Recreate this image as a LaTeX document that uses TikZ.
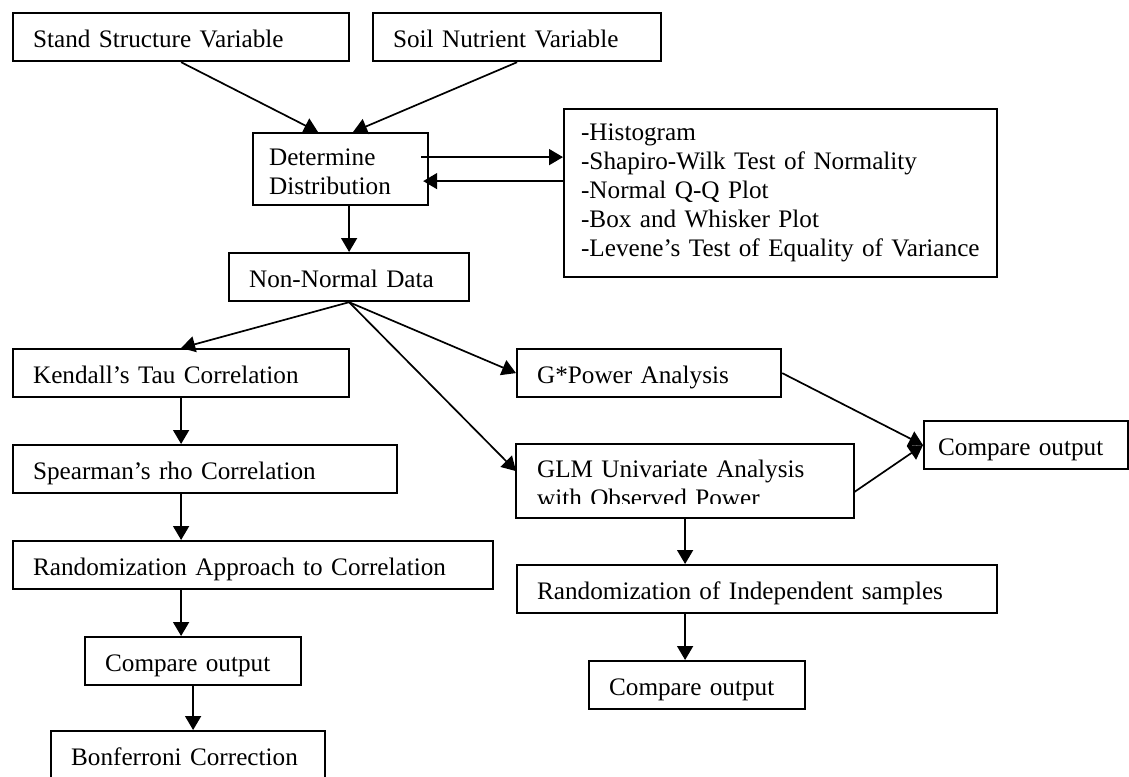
\documentclass[tikz,border=0pt]{standalone}
\usepackage{fontspec}
\setmainfont{Liberation Serif}
\usetikzlibrary{arrows.meta}
\begin{document}
\begin{tikzpicture}[x=0.5pt,y=-0.5pt,
  box/.style={draw, line width=1.1pt, anchor=north west, inner ysep=0pt, inner xsep=10pt,
    align=left, font=\fontsize{12.6pt}{14.5pt}\selectfont, text height=13pt, text depth=3pt,
    minimum height=24pt},
  arr/.style={line width=0.85pt, -{Triangle[length=7pt,width=8pt]}}]
\clip (0,0) rectangle (1129,776);
% top row
\node[box, text width=148pt] (stand) at (12,12) {Stand Structure Variable};
\node[box, text width=124pt] (soil) at (372,12) {Soil Nutrient Variable};
\node[box, inner xsep=8pt, text width=71.5pt, minimum height=36pt, text depth=17pt] (det) at (252,132) {Determine\\Distribution};
\node[box, inner xsep=8.5pt, text width=199.5pt, minimum height=84pt, text depth=66pt] (hist) at (563,108)
  {\mbox{-Histogram}\\\mbox{-Shapiro-Wilk Test of Normality}\\\mbox{-Normal Q-Q Plot}\\\mbox{-Box and Whisker Plot}\\\mbox{-Levene’s Test of Equality of Variance}};
\node[box, text width=100pt] (nonnorm) at (228,252) {Non-Normal Data};
% left column
\node[box, text width=148pt] (kendall) at (12,348) {Kendall’s Tau Correlation};
\node[box, text width=172pt] (spear) at (12,444) {Spearman’s rho Correlation};
\node[box, text width=220pt] (randA) at (12,540) {Randomization Approach to Correlation};
\node[box, text width=88pt] (cmpL) at (84,636) {Compare output};
\node[box, text width=117pt] (bonf) at (50,730) {Bonferroni Correction};
% right column
\node[box, text width=112pt] (gpower) at (516,348) {G*Power Analysis};
\begin{scope}
  \clip (0,0) rectangle (1129,503);
  \node[box, draw=none, text width=148pt, minimum height=36pt, text depth=16.3pt] (glm) at (516,444)
    {\mbox{GLM Univariate Analysis}\\\mbox{with Observed Power}};
\end{scope}
\draw[line width=1.1pt] (glm.north west) rectangle (glm.south east);
\node[box, inner xsep=7pt, text width=88pt] (cmpR) at (923,420) {Compare output};
\node[box, text width=220pt] (randI) at (516,564) {Randomization of Independent samples};
\node[box, text width=88pt] (cmpB) at (588,660) {Compare output};
% connectors
\draw[arr] (stand.south) -- ([xshift=33pt]det.north west);
\draw[arr] (soil.south) -- ([xshift=50.5pt]det.north west);
\coordinate (d1) at ([xshift=-4pt,yshift=6pt]det.east);
\coordinate (d2) at ([xshift=-3pt,yshift=-6pt]det.east);
\draw[arr] (d1) -- (d1 -| hist.west);
\draw[arr] (d2 -| hist.west) -- (d2);
\draw[arr] (nonnorm.north |- det.south) -- (nonnorm.north);
\draw[arr] (nonnorm.south) -- (kendall.north);
\draw[arr] (nonnorm.south) -- (gpower.west);
\draw[arr] (nonnorm.south) -- ([yshift=5pt]glm.west);
\draw[arr] (kendall.south) -- (kendall.south |- spear.north);
\draw[arr] (kendall.south |- spear.south) -- (kendall.south |- randA.north);
\draw[arr] (kendall.south |- randA.south) -- (kendall.south |- cmpL.north);
\draw[arr] (cmpL.south) -- (cmpL.south |- bonf.north);
\draw[arr] (gpower.east) -- (cmpR.west);
\draw[arr] ([yshift=-5.5pt]glm.east) -- (cmpR.west);
\draw[arr] (glm.south) -- (glm.south |- randI.north);
\draw[arr] (glm.south |- randI.south) -- (glm.south |- cmpB.north);
\end{tikzpicture}
\end{document}
